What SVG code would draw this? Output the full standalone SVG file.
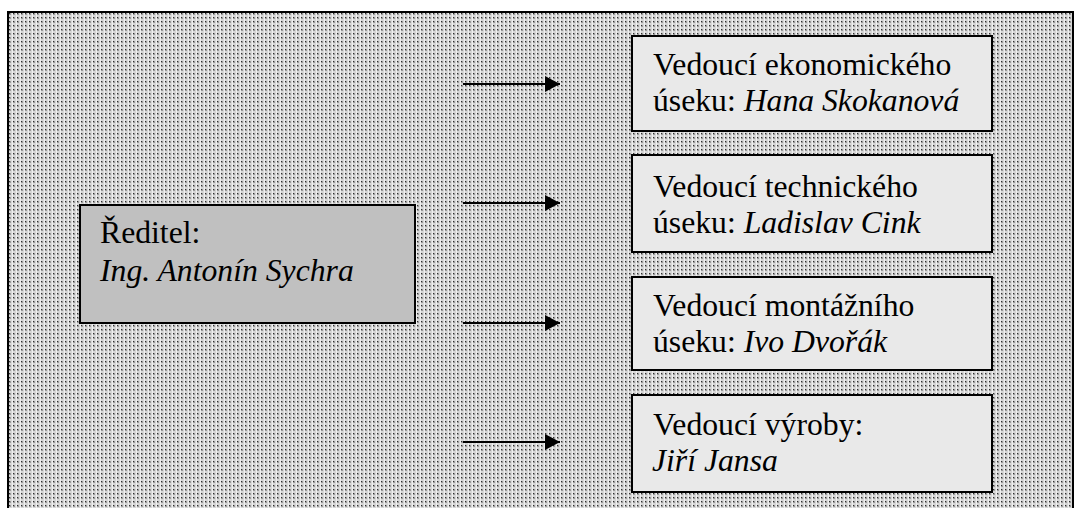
<svg xmlns="http://www.w3.org/2000/svg" width="1074" height="508" viewBox="0 0 1074 508">
  <defs>
    <pattern id="dots" x="0" y="0" width="4" height="4" patternUnits="userSpaceOnUse">
      <rect width="4" height="4" fill="#d6d6d6"/>
      <rect x="0" y="0" width="1" height="4" fill="#efefef"/>
      <rect x="1" y="1" width="2" height="2" fill="#9a9a9a"/>
      <rect x="1" y="1" width="1" height="1" fill="#303030"/>
    </pattern>
    <marker id="arrow" markerWidth="16" markerHeight="16" refX="15" refY="8" orient="auto" markerUnits="userSpaceOnUse">
      <path d="M0,0 L15,8 L0,16 Z" fill="#000"/>
    </marker>
    <style>
      .frame { fill: url(#dots); stroke: #000; stroke-width: 2; }
      .boss { fill: #c0c0c0; stroke: #000; stroke-width: 2; }
      .box { fill: #e9e9e9; stroke: #000; stroke-width: 2; }
      .t { font-family: "Liberation Serif", "Times New Roman", serif; font-size: 31.7px; fill: #000; }
      .it { font-style: italic; }
      .conn line { stroke: #000; stroke-width: 2; marker-end: url(#arrow); }
    </style>
  </defs>

  <rect class="frame" x="8" y="12" width="1065" height="510"/>

  <g id="reditel">
    <rect class="boss" x="80" y="205" width="335" height="118"/>
    <text class="t" x="100" y="243">Ředitel:</text>
    <text class="t it" x="100" y="281">Ing. Antonín Sychra</text>
  </g>

  <g id="ekonomicky">
    <rect class="box" x="632" y="36" width="360" height="95"/>
    <text class="t" x="653" y="75">Vedoucí ekonomického</text>
    <text class="t" x="653" y="111">úseku: <tspan class="it">Hana Skokanová</tspan></text>
  </g>

  <g id="technicky">
    <rect class="box" x="632" y="155" width="360" height="97"/>
    <text class="t" x="653" y="197">Vedoucí technického</text>
    <text class="t" x="653" y="233">úseku: <tspan class="it">Ladislav Cink</tspan></text>
  </g>

  <g id="montazni">
    <rect class="box" x="632" y="277" width="360" height="93"/>
    <text class="t" x="653" y="316">Vedoucí montážního</text>
    <text class="t" x="653" y="352">úseku: <tspan class="it">Ivo Dvořák</tspan></text>
  </g>

  <g id="vyroba">
    <rect class="box" x="632" y="395" width="360" height="97"/>
    <text class="t" x="653" y="435">Vedoucí výroby:</text>
    <text class="t it" x="652" y="471">Jiří Jansa</text>
  </g>

  <g id="connectors" class="conn">
    <line x1="463" y1="84" x2="560" y2="84"/>
    <line x1="463" y1="203" x2="560" y2="203"/>
    <line x1="463" y1="323" x2="560" y2="323"/>
    <line x1="463" y1="442" x2="560" y2="442"/>
  </g>
</svg>
